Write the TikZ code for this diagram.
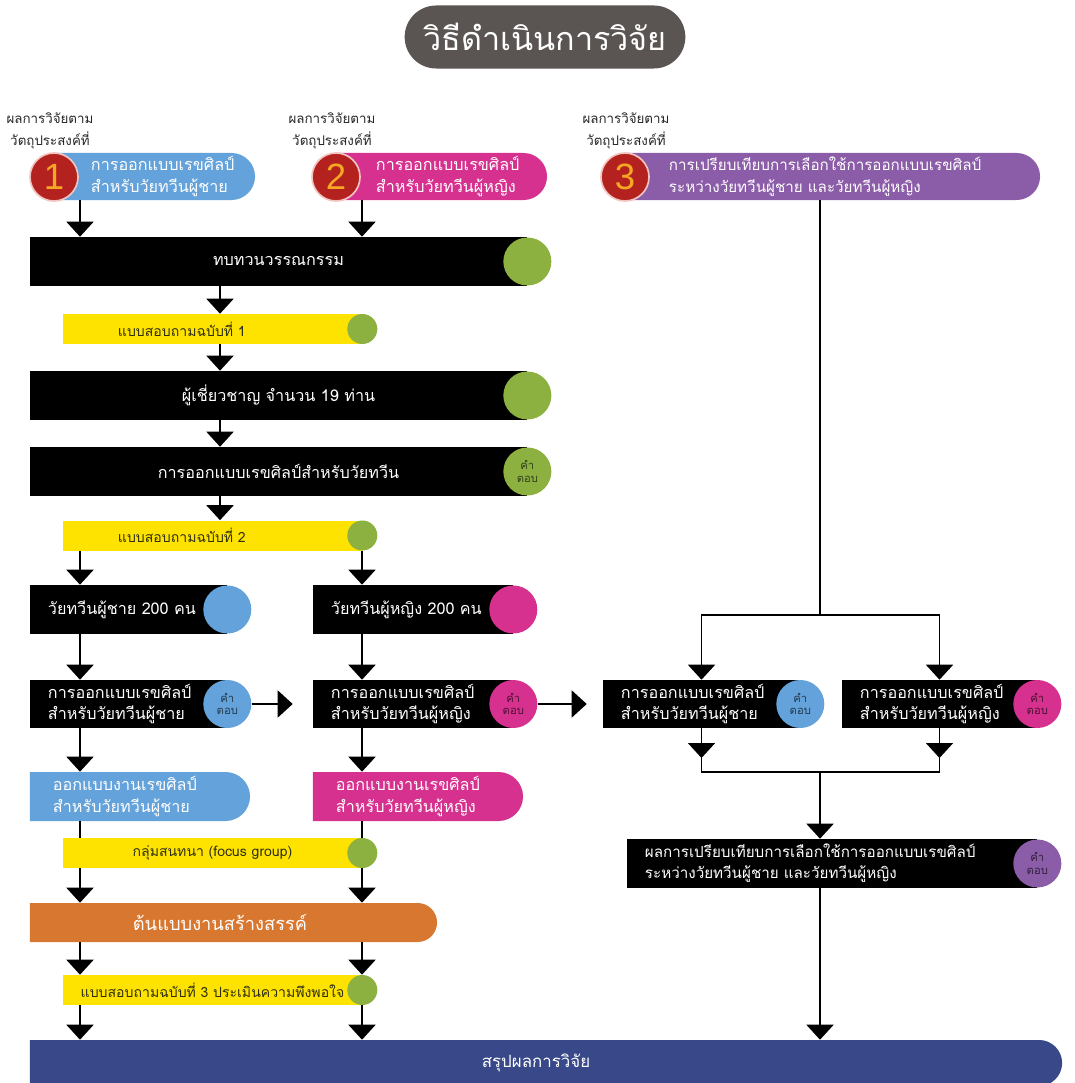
\documentclass[tikz,border=0pt]{standalone}
\usepackage{fontspec}
\setmainfont[Script=Thai]{Loma}
\newfontfamily\numfont{Liberation Sans}
\usetikzlibrary{shapes.misc,arrows.meta}

\definecolor{titlegray}{HTML}{5A5553}
\definecolor{cblue}{HTML}{63A2DA}
\definecolor{cmag}{HTML}{D6318E}
\definecolor{cpurple}{HTML}{8B5CA8}
\definecolor{cred}{HTML}{B3221F}
\definecolor{cpink}{HTML}{F2C4C0}
\definecolor{corange}{HTML}{F7A823}
\definecolor{cgreen}{HTML}{8DB141}
\definecolor{cyellow}{HTML}{FFE300}
\definecolor{corg}{HTML}{D8772F}
\definecolor{cnavy}{HTML}{384889}
\definecolor{ctext}{HTML}{30300F}

\tikzset{
  arr/.style={line width=1.3pt, -{Triangle[width=6.75mm,length=3.75mm]}},
  link/.style={line width=1.3pt},
  bar/.style={fill=black, text=white, minimum width=124.25mm, minimum height=12.25mm, font=\fontsize{11.5}{15}\selectfont},
  tbox/.style={fill=black, text=white, inner xsep=4.5mm, inner ysep=1pt, text width=#1, align=left, minimum height=12.25mm, font=\fontsize{11.5}{15}\selectfont},
  ybar/.style={fill=cyellow, text=ctext, text width=74.75mm, inner xsep=0pt, align=center, minimum height=7.5mm, font=\fontsize{10}{12}\selectfont},
  bigdot/.style={circle, fill=#1, text=#1!35!black, minimum size=12mm, inner sep=0pt, align=center, font=\fontsize{8}{9}\selectfont},
  ydot/.style={circle, fill=cgreen, minimum size=7.5mm, inner sep=0pt},
  pill/.style={rounded rectangle, rounded rectangle west arc=none, fill=#1, minimum height=11.75mm, inner sep=0pt},
  ptxt/.style={anchor=west, text=white, align=left, font=\fontsize{11.5}{15.5}\selectfont},
  num/.style={circle, fill=cred, draw=cpink, line width=1.2pt, minimum size=12mm, inner sep=0pt, text=corange, font=\numfont\fontsize{26}{26}\selectfont},
  lbl/.style={align=center, text=black!85, font=\fontsize{9.5}{15.5}\selectfont}
}

\begin{document}
\begin{tikzpicture}[x=0.025cm, y=-0.025cm]
  \useasboundingbox (0,0) rectangle (1075,1083);

  \node[rounded rectangle, fill=titlegray, text=white, minimum width=72.5mm, minimum height=15.75mm, font=\fontsize{23}{23}\selectfont] (title) at (545,37) {วิธีดำเนินการวิจัย};

  \foreach \n/\x in {1/50, 2/332, 3/626}
    \node[lbl] (lab\n) at (\x,131) {ผลการวิจัยตาม\\วัตถุประสงค์ที่};

  % objectives
  \node[pill=cblue, minimum width=50.25mm] (p1) at (154.5,176.5) {};
  \node[pill=cmag, minimum width=52.75mm] (p2) at (441.5,176.5) {};
  \node[pill=cpurple, minimum width=103.75mm] (p3) at (832.5,176.5) {};
  \node[ptxt] (p1t) at (86,176.5) {การออกแบบเรขศิลป์\\สำหรับวัยทวีนผู้ชาย};
  \node[ptxt] (p2t) at (371,176.5) {การออกแบบเรขศิลป์\\สำหรับวัยทวีนผู้หญิง};
  \node[ptxt, font=\fontsize{10.8}{15.5}\selectfont] (p3t) at (664,176.5) {การเปรียบเทียบการเลือกใช้การออกแบบเรขศิลป์\\ระหว่างวัยทวีนผู้ชาย และวัยทวีนผู้หญิง};
  \node[num] (n1) at (54,177) {1};
  \node[num] (n2) at (336,177) {2};
  \node[num] (n3) at (625,177) {3};

  % common steps
  \node[bar] (b1) at (278.5,261.5) {ทบทวนวรรณกรรม};
  \node[bigdot=cgreen] (d1) at (b1.east) {};
  \node[ybar, align=left] (q1) at (212.5,329) {\hspace*{13.75mm}แบบสอบถามฉบับที่ 1};
  \node[ydot] (e1) at (q1.east) {};
  \node[bar] (b2) at (278.5,395.5) {ผู้เชี่ยวชาญ จำนวน 19 ท่าน};
  \node[bigdot=cgreen] (d2) at (b2.east) {};
  \node[bar] (b3) at (278.5,471.5) {การออกแบบเรขศิลป์สำหรับวัยทวีน};
  \node[bigdot=cgreen] (d3) at (b3.east) {คำ\\ตอบ};
  \node[ybar, align=left] (q2) at (212.5,535.5) {\hspace*{13.75mm}แบบสอบถามฉบับที่ 2};
  \node[ydot] (e2) at (q2.east) {};

  % boys / girls
  \node[tbox=40.25mm] (m1) at (128.5,609.5) {วัยทวีนผู้ชาย 200 คน};
  \node[bigdot=cblue] (cm1) at (m1.east) {};
  \node[tbox=41mm] (f1) at (413,609.5) {วัยทวีนผู้หญิง 200 คน};
  \node[bigdot=cmag] (cf1) at (f1.east) {};
  \node[tbox=40.25mm, minimum height=12mm] (a1) at (128.5,704) {การออกแบบเรขศิลป์\\สำหรับวัยทวีนผู้ชาย};
  \node[bigdot=cblue] (ca1) at (a1.east) {คำ\\ตอบ};
  \node[tbox=41mm, minimum height=12mm] (a2) at (413,704) {การออกแบบเรขศิลป์\\สำหรับวัยทวีนผู้หญิง};
  \node[bigdot=cmag] (ca2) at (a2.east) {คำ\\ตอบ};
  \node[pill=cblue, minimum width=55mm, minimum height=12.25mm] (g1) at (140,796.5) {};
  \node[ptxt] (g1t) at (48,796.5) {ออกแบบงานเรขศิลป์\\สำหรับวัยทวีนผู้ชาย};
  \node[pill=cmag, minimum width=52.5mm, minimum height=12.25mm] (g2) at (418,796.5) {};
  \node[ptxt] (g2t) at (331,796.5) {ออกแบบงานเรขศิลป์\\สำหรับวัยทวีนผู้หญิง};
  \node[ybar] (q3) at (212.5,853) {กลุ่มสนทนา (focus group)};
  \node[ydot] (e3) at (q3.east) {};
  \node[pill=corg, minimum width=101.75mm, minimum height=9.75mm] (o) at (233.5,922.5) {};
  \node[text=white, font=\fontsize{13}{13}\selectfont] (ot) at (220,922.5) {ต้นแบบงานสร้างสรรค์};
  \node[ybar] (q4) at (212.5,990) {แบบสอบถามฉบับที่ 3 ประเมินความพึงพอใจ};
  \node[ydot] (e4) at (q4.east) {};

  % comparison
  \node[tbox=40.25mm, minimum height=12mm] (r1) at (701.5,704) {การออกแบบเรขศิลป์\\สำหรับวัยทวีนผู้ชาย};
  \node[bigdot=cblue] (cr1) at (r1.east) {คำ\\ตอบ};
  \node[tbox=39.75mm, minimum height=12mm] (r2) at (939.5,704) {การออกแบบเรขศิลป์\\สำหรับวัยทวีนผู้หญิง};
  \node[bigdot=cmag] (cr2) at (r2.east) {คำ\\ตอบ};
  \node[tbox=93.5mm, font=\fontsize{10.8}{15}\selectfont] (r3) at (832,863.5) {ผลการเปรียบเทียบการเลือกใช้การออกแบบเรขศิลป์\\ระหว่างวัยทวีนผู้ชาย และวัยทวีนผู้หญิง};
  \node[bigdot=cpurple] (cr3) at (r3.east) {คำ\\ตอบ};

  \node[pill=cnavy, minimum width=258mm, minimum height=11.5mm] (s) at (546,1063) {};
  \node[text=white, font=\fontsize{12}{12}\selectfont] (st) at (536,1063) {สรุปผลการวิจัย};

  % connectors
  \coordinate (L) at (80,0);
  \coordinate (M) at (362,0);
  \coordinate (C) at (220,0);
  \coordinate (R) at (820,0);
  \coordinate (j1) at (820,615);
  \coordinate (j2) at (820,772);
  \coordinate (k) at (0,758);

  \draw[arr] (L|-p1.south) -- (L|-b1.north);
  \draw[arr] (M|-p2.south) -- (M|-b1.north);
  \draw[arr] (C|-b1.south) -- (C|-q1.north);
  \draw[arr] (C|-q1.south) -- (C|-b2.north);
  \draw[arr] (C|-b2.south) -- (C|-b3.north);
  \draw[arr] (C|-b3.south) -- (C|-q2.north);
  \foreach \c/\u/\v/\w in {L/m1/a1/g1, M/f1/a2/g2} {
    \draw[arr] (\c|-q2.south) -- (\c|-\u.north);
    \draw[arr] (\c|-\u.south) -- (\c|-\v.north);
    \draw[arr] (\c|-\v.south) -- (\c|-\w.north);
    \draw[link] (\c|-\w.south) -- (\c|-q3.north);
    \draw[arr] (\c|-q3.south) -- (\c|-o.north);
    \draw[arr] (\c|-o.south) -- (\c|-q4.north);
    \draw[arr] (\c|-q4.south) -- (\c|-s.north);
  }
  \draw[arr] (ca1.east) -- ([xshift=-5mm]a2.west);
  \draw[arr] (ca2.east) -- ([xshift=-4mm]r1.west);

  \draw[link] (R|-p3.south) -- (j1);
  \draw[arr] (j1) -| (r1.north);
  \draw[arr] (j1) -| (r2.north);
  \draw[link] (r1.south) |- (j2) -| (r2.south);
  \draw[arr] (r1.south) -- (r1.south|-k);
  \draw[arr] (r2.south) -- (r2.south|-k);
  \draw[arr] (j2) -- (j2|-r3.north);
  \draw[arr] (R|-r3.south) -- (R|-s.north);
\end{tikzpicture}
\end{document}
